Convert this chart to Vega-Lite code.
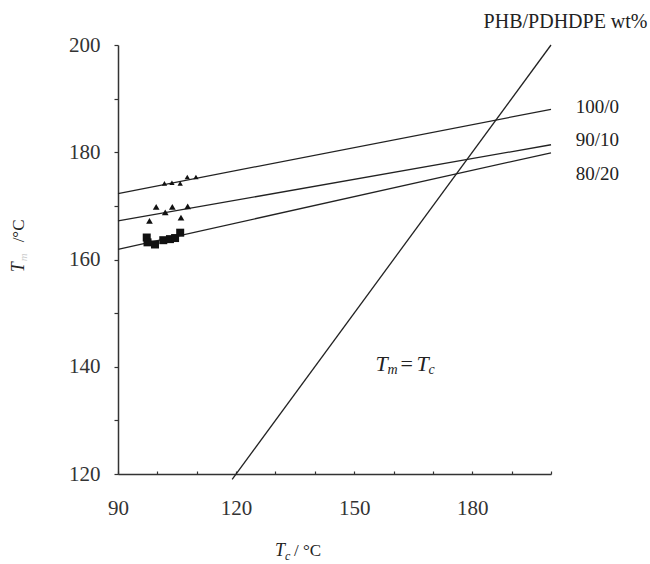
{
  "$schema": "https://vega.github.io/schema/vega-lite/v6.json",
  "width": 433,
  "height": 429,
  "autosize": {"type": "none"},
  "padding": {"left": 118, "top": 45, "right": 99, "bottom": 90},
  "background": "white",
  "config": {
    "view": {"stroke": null},
    "font": "Liberation Serif"
  },
  "encoding": {
    "x": {
      "field": "x", "type": "quantitative",
      "scale": {"domain": [90, 200], "nice": false, "zero": false},
      "axis": {
        "title": null, "grid": false,
        "values": [90, 100, 110, 120, 130, 140, 150, 160, 170, 180, 190, 200],
        "labelExpr": "datum.value % 30 == 0 ? datum.label : ''",
        "domainColor": "#333", "domainWidth": 1.5,
        "tickColor": "#333", "tickWidth": 1.2, "tickSize": -3,
        "labelFont": "Liberation Serif", "labelFontSize": 21, "labelColor": "#333",
        "labelPadding": 26, "labelFlush": false
      }
    },
    "y": {
      "field": "y", "type": "quantitative",
      "scale": {"domain": [120, 200], "nice": false, "zero": false},
      "axis": {
        "title": null, "grid": false,
        "values": [120, 130, 140, 150, 160, 170, 180, 190, 200],
        "labelExpr": "datum.value % 20 == 0 ? datum.label : ''",
        "domainColor": "#333", "domainWidth": 1.5,
        "tickColor": "#333", "tickWidth": 1.2, "tickSize": 4,
        "labelFont": "Liberation Serif", "labelFontSize": 21, "labelColor": "#333",
        "labelPadding": 14, "labelFlush": false
      }
    }
  },
  "layer": [
    {
      "data": {"values": [
        {"s": "100/0", "x": 90, "y": 172.3}, {"s": "100/0", "x": 200, "y": 188.0},
        {"s": "90/10", "x": 90, "y": 167.2}, {"s": "90/10", "x": 200, "y": 181.4},
        {"s": "80/20", "x": 90, "y": 161.9}, {"s": "80/20", "x": 200, "y": 179.9},
        {"s": "Tm=Tc", "x": 119, "y": 119}, {"s": "Tm=Tc", "x": 200, "y": 200}
      ]},
      "mark": {"type": "line", "color": "#222", "strokeWidth": 1.3, "clip": false},
      "encoding": {"detail": {"field": "s"}}
    },
    {
      "data": {"values": [
        {"s": "100/0", "x": 101.8, "y": 174.2}, {"s": "100/0", "x": 103.7, "y": 174.3},
        {"s": "100/0", "x": 105.8, "y": 174.2}, {"s": "100/0", "x": 107.6, "y": 175.4},
        {"s": "100/0", "x": 109.8, "y": 175.4}
      ]},
      "mark": {"type": "point", "shape": "triangle-up", "filled": true, "color": "#111", "size": 28, "opacity": 1}
    },
    {
      "data": {"values": [
        {"s": "90/10", "x": 99.7, "y": 169.8}, {"s": "90/10", "x": 102.0, "y": 168.8},
        {"s": "90/10", "x": 103.8, "y": 169.8}, {"s": "90/10", "x": 107.7, "y": 169.9},
        {"s": "90/10", "x": 98.0, "y": 167.2}, {"s": "90/10", "x": 106.0, "y": 167.8}
      ]},
      "mark": {"type": "point", "shape": "triangle-up", "filled": true, "color": "#111", "size": 45, "opacity": 1}
    },
    {
      "data": {"values": [
        {"s": "80/20", "x": 97.3, "y": 164.1}, {"s": "80/20", "x": 97.5, "y": 163.2},
        {"s": "80/20", "x": 99.4, "y": 162.8}, {"s": "80/20", "x": 101.5, "y": 163.6},
        {"s": "80/20", "x": 103.2, "y": 163.8}, {"s": "80/20", "x": 104.5, "y": 164.0},
        {"s": "80/20", "x": 105.8, "y": 165.0}
      ]},
      "mark": {"type": "point", "shape": "square", "filled": true, "color": "#111", "size": 64, "opacity": 1}
    },
    {
      "data": {"values": [
        {"t": "100/0", "x": 206.3, "y": 188.5},
        {"t": "90/10", "x": 206.3, "y": 182.2},
        {"t": "80/20", "x": 206.3, "y": 176.0}
      ]},
      "mark": {"type": "text", "align": "left", "baseline": "middle", "font": "Liberation Serif", "fontSize": 19, "color": "#222"},
      "encoding": {"text": {"field": "t"}}
    },
    {
      "data": {"values": [{"t": "PHB/PDHDPE wt%", "x": 203.7, "y": 204.3}]},
      "mark": {"type": "text", "align": "center", "baseline": "middle", "font": "Liberation Serif", "fontSize": 20, "color": "#222"},
      "encoding": {"text": {"field": "t"}}
    },
    {
      "data": {"values": [{"x": 155.4, "y": 140.5}]},
      "layer": [
        {"mark": {"type": "text", "text": "T", "align": "left", "baseline": "middle", "font": "Liberation Serif", "fontStyle": "italic", "fontSize": 22, "color": "#222"}},
        {"mark": {"type": "text", "text": "m", "align": "left", "baseline": "middle", "dx": 12, "dy": 6, "font": "Liberation Serif", "fontStyle": "italic", "fontSize": 14, "color": "#222"}},
        {"mark": {"type": "text", "text": "=", "align": "left", "baseline": "middle", "dx": 25, "font": "Liberation Serif", "fontSize": 22, "color": "#222"}},
        {"mark": {"type": "text", "text": "T", "align": "left", "baseline": "middle", "dx": 41, "font": "Liberation Serif", "fontStyle": "italic", "fontSize": 22, "color": "#222"}},
        {"mark": {"type": "text", "text": "c", "align": "left", "baseline": "middle", "dx": 53, "dy": 6, "font": "Liberation Serif", "fontStyle": "italic", "fontSize": 14, "color": "#222"}}
      ]
    },
    {
      "data": {"values": [{"x": 129.9, "y": 105.6}]},
      "layer": [
        {"mark": {"type": "text", "text": "T", "align": "left", "baseline": "middle", "font": "Liberation Serif", "fontStyle": "italic", "fontSize": 18, "color": "#222"}},
        {"mark": {"type": "text", "text": "c", "align": "left", "baseline": "middle", "dx": 10, "dy": 5, "font": "Liberation Serif", "fontStyle": "italic", "fontSize": 12, "color": "#222"}},
        {"mark": {"type": "text", "text": "/ °C", "align": "left", "baseline": "middle", "dx": 19, "font": "Liberation Serif", "fontSize": 17, "color": "#222"}}
      ]
    },
    {
      "data": {"values": [{"x": 64.8, "y": 157.6}]},
      "layer": [
        {"mark": {"type": "text", "text": "T", "angle": 270, "align": "left", "baseline": "middle", "font": "Liberation Serif", "fontStyle": "italic", "fontSize": 18, "color": "#222"}},
        {"mark": {"type": "text", "text": "m", "angle": 270, "align": "left", "baseline": "middle", "dx": 11, "dy": 5, "font": "Liberation Serif", "fontStyle": "italic", "fontSize": 11, "color": "#ccc"}},
        {"mark": {"type": "text", "text": "/°C", "angle": 270, "align": "left", "baseline": "middle", "dx": 30, "font": "Liberation Serif", "fontSize": 17, "color": "#222"}}
      ]
    }
  ]
}
